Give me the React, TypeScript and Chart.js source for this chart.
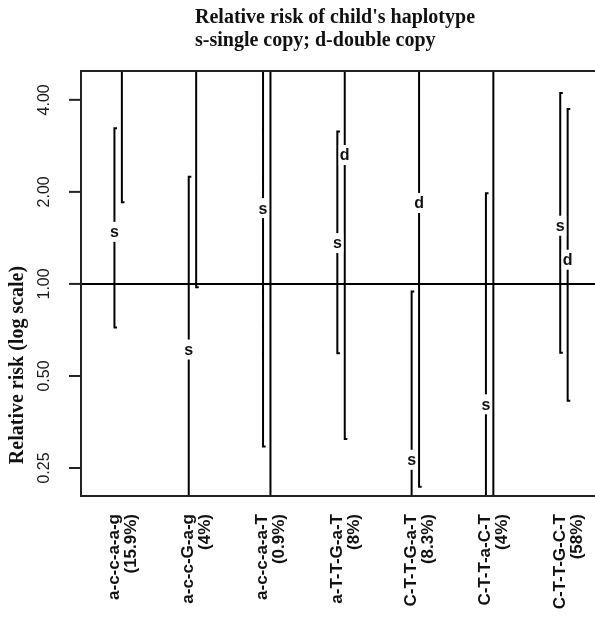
import React, { useEffect, useRef } from "react";
import { Chart, registerables } from "chart.js";

Chart.register(...registerables);

// ---- data ----
const categories = ["a-c-c-a-a-g", "a-c-c-G-a-g", "a-c-c-a-a-T", "a-T-T-G-a-T", "C-T-T-G-a-T", "C-T-T-a-C-T", "C-T-T-G-C-T"];
const frequencies = ["(15.9%)", "(4%)", "(0.9%)", "(8%)", "(8.3%)", "(4%)", "(58%)"];

// single copy (s): estimate, lower and upper limits (values outside the axis run off the plot)
const singleEst = [1.48, 0.61, 1.77, 1.36, 0.266, 0.404, 1.55];
const singleLow = [0.72, 0.1, 0.294, 0.593, 0.1, 0.1, 0.596];
const singleHigh = [3.23, 2.24, 8, 3.15, 0.944, 1.98, 4.21];

// double copy (d)
const doubleEst: (number | null)[] = [null, null, null, 2.64, 1.84, null, 1.2];
const doubleLow = [1.85, 0.975, 0.1, 0.311, 0.217, 0.1, 0.415];
const doubleHigh = [8, 8, 8, 8, 8, 8, 3.73];

const yTicks = [0.25, 0.5, 1, 2, 4];
const yTickLabels = ["0.25", "0.50", "1.00", "2.00", "4.00"];

const titleLines = ["Relative risk of child's haplotype", "s-single copy; d-double copy"];
const yTitle = "Relative risk (log scale)";

const OFF = 0.05;
const CAP = 0.035;

function barPoints(lo: number[], hi: number[], off: number) {
  const pts: { x: number; y: number | null }[] = [];
  categories.forEach((_, i) => {
    const x = i + 1 + off;
    pts.push({ x: x + CAP, y: hi[i] }, { x, y: hi[i] }, { x, y: lo[i] }, { x: x + CAP, y: lo[i] }, { x, y: null });
  });
  return pts;
}

const decor = {
  id: "decor",
  afterDatasetsDraw(chart: any) {
    const { ctx, chartArea: a, scales } = chart;
    const xs = scales.x;
    const ys = scales.y;
    ctx.save();
    // letters
    const letter = (txt: string, vals: (number | null)[], off: number) => {
      vals.forEach((v, i) => {
        if (v == null) return;
        const x = xs.getPixelForValue(i + 1 + off);
        const y = ys.getPixelForValue(v);
        ctx.fillStyle = "#fff";
        ctx.fillRect(x - 6, y - 10, 12, 20);
        ctx.fillStyle = "#111";
        ctx.font = "bold 16px 'Liberation Sans'";
        ctx.textAlign = "center";
        ctx.textBaseline = "middle";
        ctx.fillText(txt, x, y + 1);
      });
    };
    letter("s", singleEst, -OFF);
    letter("d", doubleEst, OFF);

    // box
    ctx.strokeStyle = "#222";
    ctx.lineWidth = 2;
    ctx.strokeRect(a.left, a.top, a.right - a.left + 20, a.bottom - a.top);

    // y ticks
    ctx.fillStyle = "#1a1a1a";
    ctx.font = "16px 'Liberation Sans'";
    yTicks.forEach((v, i) => {
      const y = ys.getPixelForValue(v);
      ctx.beginPath();
      ctx.moveTo(a.left - 12, y);
      ctx.lineTo(a.left, y);
      ctx.stroke();
      ctx.save();
      ctx.translate(45, y);
      ctx.rotate(-Math.PI / 2);
      ctx.textAlign = "center";
      ctx.textBaseline = "middle";
      ctx.fillText(yTickLabels[i], 0, 0);
      ctx.restore();
    });

    // x labels
    ctx.font = "bold 17px 'Liberation Sans'";
    ctx.fillStyle = "#111";
    categories.forEach((c, i) => {
      const cx = xs.getPixelForValue(i + 1);
      [c, frequencies[i]].forEach((t, k) => {
        ctx.save();
        ctx.translate(cx - 4 + k * 17, a.bottom + 18);
        ctx.rotate(-Math.PI / 2);
        ctx.textAlign = "right";
        ctx.textBaseline = "middle";
        ctx.fillText(t, 0, 0);
        ctx.restore();
      });
    });

    // titles
    ctx.fillStyle = "#111";
    ctx.font = "bold 20px 'Liberation Serif'";
    ctx.textAlign = "left";
    ctx.textBaseline = "middle";
    ctx.fillText(titleLines[0], 195, 18);
    ctx.fillText(titleLines[1], 195, 41);

    ctx.save();
    ctx.translate(18, 365);
    ctx.rotate(-Math.PI / 2);
    ctx.textAlign = "center";
    ctx.fillText(yTitle, 0, 0);
    ctx.restore();

    ctx.restore();
  },
};

export default function App() {
  const ref = useRef<HTMLCanvasElement>(null);
  useEffect(() => {
    const cv = ref.current!;
    const lineStyle = {
      borderColor: "#000",
      borderWidth: 2,
      pointRadius: 0,
      showLine: true,
      spanGaps: false,
      tension: 0,
      fill: false,
    };
    const chart = new Chart(cv, {
      type: "scatter",
      data: {
        datasets: [
          { ...lineStyle, label: "single", data: barPoints(singleLow, singleHigh, -OFF) },
          { ...lineStyle, label: "double", data: barPoints(doubleLow, doubleHigh, OFF) },
          { ...lineStyle, label: "ref", data: [{ x: 0.3, y: 1 }, { x: 8, y: 1 }] },
        ],
      } as any,
      options: {
        responsive: false,
        animation: false,
        devicePixelRatio: 1,
        layout: { padding: { left: 81, top: 71, right: 0, bottom: 124 } },
        plugins: { legend: { display: false }, tooltip: { enabled: false } },
        scales: {
          x: { type: "linear", display: false, min: 0.5, max: 7.418 },
          y: { type: "logarithmic", display: false, min: 0.2025, max: 4.97 },
        },
      } as any,
      plugins: [decor],
    });
    return () => chart.destroy();
  }, []);
  return (
    <div style={{ position: "absolute", left: 0, top: 0, width: 595, height: 620, overflow: "hidden", background: "#fff" }}>
      <canvas ref={ref} width={595} height={620} style={{ display: "block" }} />
    </div>
  );
}
